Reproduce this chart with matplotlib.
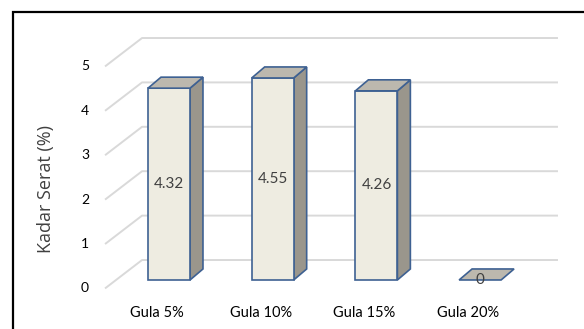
import matplotlib
matplotlib.use("Agg")
import matplotlib.pyplot as plt
from matplotlib.patches import Polygon, Rectangle

categories = ["Gula 5%", "Gula 10%", "Gula 15%", "Gula 20%"]
values = [4.32, 4.55, 4.26, 0]
value_labels = ["4.32", "4.55", "4.26", "0"]
yticks = [0, 1, 2, 3, 4, 5]
ylabel = "Kadar Serat (%)"

plt.rcParams['font.family'] = ['Lato', 'DejaVu Sans']

W, H = 584, 329
fig = plt.figure(figsize=(W / 100, H / 100), dpi=100)
ax = fig.add_axes([0, 0, 1, 1])
ax.set_xlim(-1.630, 4.002)
ax.set_ylim(-1.104, 6.306)
ax.axis('off')

# outer frame (top and left visible)
fig.patches.append(Rectangle((13 / W, -0.1), 1.2, 1 - 12 / H + 0.1, transform=fig.transFigure,
                             fill=False, edgecolor='black', lw=1.6, zorder=0))

bar_w = 0.405
dx, dy = 0.125, 0.248          # bar depth offset (data units)
floor_x, floor_off = -0.617, -0.19
wall_x0, wall_x1, wall_off = -0.260, 3.751, 0.45

grid_c = '#D9D9D9'
for t in yticks:
    ax.plot([floor_x, wall_x0, wall_x1], [t + floor_off, t + wall_off, t + wall_off],
            color=grid_c, lw=1.4, zorder=1, solid_capstyle='butt')
    ax.text(-0.81, t + floor_off, str(t), ha='center', va='center', fontsize=10, color='black')

front_c = '#EEECE1'
side_c = '#9A968C'
top_c = '#BCB8AE'
edge_c = '#3E6192'

for i, v in enumerate(values):
    x0, x1 = i - bar_w / 2, i + bar_w / 2
    if v > 0:
        ax.add_patch(Polygon([(x1, 0), (x1 + dx, dy), (x1 + dx, v + dy), (x1, v)],
                             closed=True, facecolor=side_c, edgecolor=edge_c, lw=1.2, zorder=3))
        ax.add_patch(Rectangle((x0, 0), bar_w, v, facecolor=front_c, edgecolor=edge_c, lw=1.2, zorder=4))
    ax.add_patch(Polygon([(x0, v), (x1, v), (x1 + dx, v + dy), (x0 + dx, v + dy)],
                         closed=True, facecolor=top_c, edgecolor=edge_c, lw=1.2, zorder=4))
    ax.text(i, v / 2, value_labels[i], ha='center', va='center', fontsize=11, color='#404040', zorder=6)
    ax.text(i - 0.115, -0.743, categories[i], ha='center', va='center', fontsize=10.5, color='black')

ax.text(-1.186, 2.05, ylabel, rotation=90, ha='center', va='center', fontsize=13,
        color='#404040', family=['Open Sans', 'DejaVu Sans'])

fig.savefig('out.png', dpi=100)
